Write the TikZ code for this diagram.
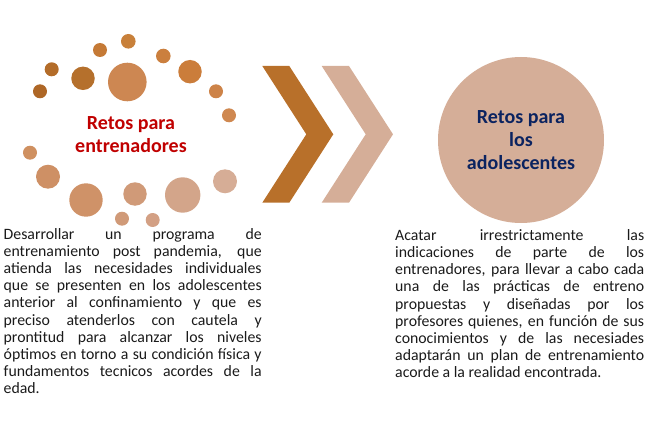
\documentclass[tikz,border=0pt]{standalone}
\usepackage{fontspec}
\setmainfont{Carlito}
\definecolor{redt}{HTML}{C00000}
\definecolor{navyt}{HTML}{0B2360}
\definecolor{chevdark}{HTML}{B8702A}
\definecolor{chevlight}{HTML}{D5AE98}
\definecolor{bodyt}{HTML}{1A1A1A}
\tikzset{
  dot/.style={circle, draw=none, inner sep=0pt, minimum size=#1},
  titletext/.style={font=\fontsize{20}{23}\selectfont\bfseries, align=center, inner sep=0pt},
  bodypar/.style={anchor=base west, inner sep=0pt, text=bodyt, font=\fontsize{15.8}{17.15}\selectfont}
}
\newcommand{\jl}[2]{\makebox[#1][s]{#2}}
\begin{document}
\begin{tikzpicture}[x=1pt,y=-1pt]
\useasboundingbox (0,0) rectangle (651,428);
% left ring of dots
\node[dot=14pt, fill={rgb,255:red,174;green,103;blue,38}] (d1) at (40,91.3) {};
\node[dot=14pt, fill={rgb,255:red,179;green,108;blue,41}] (d2) at (51.7,69.3) {};
\node[dot=23.5pt, fill={rgb,255:red,181;green,112;blue,44}] (d3) at (83,78.3) {};
\node[dot=14pt, fill={rgb,255:red,197;green,122;blue,54}] (d4) at (100,50) {};
\node[dot=14.6pt, fill={rgb,255:red,200;green,128;blue,58}] (d5) at (128.3,41.3) {};
\node[dot=38.6pt, fill={rgb,255:red,205;green,135;blue,82}] (d6) at (127.3,82) {};
\node[dot=14.6pt, fill={rgb,255:red,203;green,127;blue,62}] (d7) at (163.3,56) {};
\node[dot=23.5pt, fill={rgb,255:red,203;green,125;blue,59}] (d8) at (190,71.7) {};
\node[dot=14pt, fill={rgb,255:red,205;green,131;blue,72}] (d9) at (216,91.3) {};
\node[dot=14pt, fill={rgb,255:red,207;green,136;blue,80}] (d10) at (229,115.3) {};
\node[dot=14pt, fill={rgb,255:red,207;green,144;blue,96}] (d11) at (30,152.7) {};
\node[dot=24pt, fill={rgb,255:red,206;green,144;blue,101}] (d12) at (48,176.7) {};
\node[dot=33.4pt, fill={rgb,255:red,207;green,146;blue,104}] (d13) at (86,200) {};
\node[dot=23.5pt, fill={rgb,255:red,208;green,154;blue,120}] (d14) at (135,194) {};
\node[dot=35.4pt, fill={rgb,255:red,211;green,165;blue,138}] (d15) at (182.7,195) {};
\node[dot=24pt, fill={rgb,255:red,214;green,173;blue,150}] (d16) at (225,181.3) {};
\node[dot=14pt, fill={rgb,255:red,208;green,154;blue,120}] (d17) at (122,218.7) {};
\node[dot=14pt, fill={rgb,255:red,211;green,160;blue,132}] (d18) at (152.7,220) {};
\node[titletext, text=redt, anchor=base] (t1) at (131,152.5) {Retos para\\entrenadores};
% chevrons
\fill[chevdark] (262.3,66) -- (289.3,66) -- (333.3,134.3) -- (289.3,202.7) -- (262.3,202.7) -- (306.3,134.3) -- cycle;
\fill[chevlight] (321.7,66) -- (349,66) -- (393,134.3) -- (349,202.7) -- (321.7,202.7) -- (365.7,134.3) -- cycle;
% right circle
\node[dot=166pt, fill=chevlight, titletext, text=navyt] (adol) at (521,140) {Retos para\\los\\adolescentes};
% paragraphs
\node[bodypar] (p1) at (3.5,239.3) {\begin{minipage}[t]{258pt}
\jl{258pt}{Desarrollar un programa de}\\
\jl{258pt}{entrenamiento post pandemia, que}\\
\jl{258pt}{atienda las necesidades individuales}\\
\jl{258pt}{que se presenten en los adolescentes}\\
\jl{258pt}{anterior al confinamiento y que es}\\
\jl{258pt}{preciso atenderlos con cautela y}\\
\jl{258pt}{prontitud para alcanzar los niveles}\\
\jl{258pt}{óptimos en torno a su condición física y}\\
\jl{258pt}{fundamentos tecnicos acordes de la}\\
edad.
\end{minipage}};
\node[bodypar] (p2) at (395,240.5) {\begin{minipage}[t]{249pt}
\jl{249pt}{Acatar irrestrictamente las}\\
\jl{249pt}{indicaciones de parte de los}\\
\jl{249pt}{entrenadores, para llevar a cabo cada}\\
\jl{249pt}{una de las prácticas de entreno}\\
\jl{249pt}{propuestas y diseñadas por los}\\
\jl{249pt}{profesores quienes, en función de sus}\\
\jl{249pt}{conocimientos y de las necesiades}\\
\jl{249pt}{adaptarán un plan de entrenamiento}\\
acorde a la realidad encontrada.
\end{minipage}};
\end{tikzpicture}
\end{document}
